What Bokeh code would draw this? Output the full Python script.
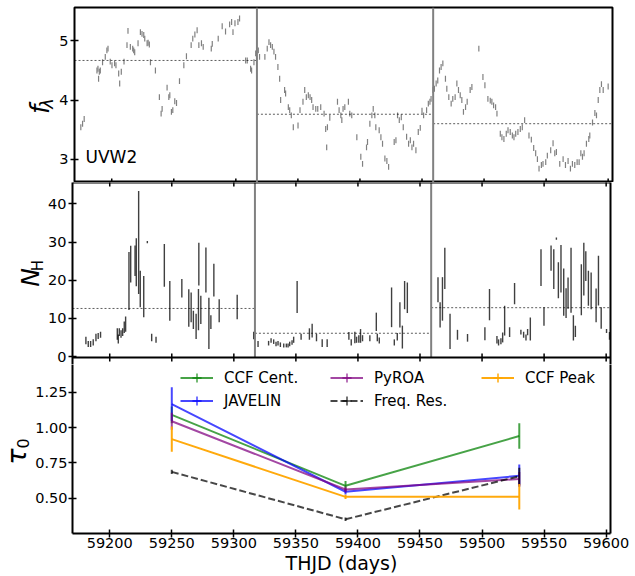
import math
import numpy as np
from bokeh.plotting import figure
from bokeh.layouts import column, row
from bokeh.models import (Span, Label, Legend, LegendItem, FixedTicker, Range1d,
                          NumeralTickFormatter, LinearAxis)
from bokeh.embed import file_html
from bokeh.resources import INLINE

FONT = "DejaVu Sans"

# ---------------- data ----------------
# UVW2 light curve (THJD, flux)
flux_t = [59175.1, 59176.5, 59177.8, 59188.1, 59188.9, 59189.4, 59190.0, 59190.8, 59192.6, 59194.8,
          59196.1, 59197.0, 59198.8, 59200.2, 59202.3, 59203.4, 59205.6, 59206.4, 59207.7, 59209.9,
          59212.3, 59213.1, 59215.0, 59216.9, 59217.7, 59218.5, 59221.2, 59223.1, 59224.4, 59225.8,
          59226.6, 59228.5, 59229.3, 59230.3, 59231.2, 59235.2, 59238.4, 59239.8, 59240.6, 59244.6,
          59246.0, 59246.8, 59248.1, 59249.2, 59250.8, 59252.2, 59254.6, 59258.1, 59260.2, 59264.0,
          59265.3, 59267.0, 59268.8, 59270.2, 59272.3, 59273.7, 59280.2, 59281.0, 59285.8, 59289.0,
          59291.7, 59295.0, 59296.6, 59297.7, 59299.3, 59301.7, 59303.0, 59307.9, 59309.2, 59311.9,
          59312.7, 59314.6, 59316.0, 59318.1, 59319.1, 59323.4, 59325.3, 59326.7, 59328.0, 59329.4,
          59330.7, 59332.0, 59333.9, 59335.3, 59336.1, 59339.3, 59340.1, 59342.3, 59343.4, 59344.7,
          59346.3, 59350.1, 59351.7, 59354.1, 59355.5, 59356.8, 59358.4, 59359.8, 59361.1, 59362.2,
          59364.4, 59366.0, 59368.4, 59371.1, 59372.4, 59373.2, 59373.8, 59375.7, 59381.9, 59383.2,
          59384.6, 59385.4, 59386.4, 59387.8, 59390.7, 59391.8, 59393.4, 59397.5, 59400.7, 59402.1,
          59405.3, 59406.1, 59408.0, 59409.6, 59410.7, 59412.0, 59412.8, 59415.5, 59416.9, 59418.2,
          59420.1, 59421.7, 59423.1, 59427.6, 59429.0, 59430.3, 59431.7, 59433.3, 59434.9, 59437.6,
          59439.2, 59440.6, 59441.9, 59443.2, 59445.1, 59447.0, 59448.6, 59450.0, 59451.3, 59453.7,
          59455.1, 59456.4, 59457.3, 59458.9, 59460.0, 59461.4, 59462.7, 59464.1, 59465.4, 59466.8,
          59468.9, 59470.0, 59471.6, 59473.5, 59474.8, 59476.7, 59478.1, 59479.4, 59480.8, 59482.1,
          59483.4, 59485.1, 59486.4, 59488.8, 59490.2, 59495.8, 59499.1, 59500.7, 59503.1, 59505.0,
          59506.3, 59507.7, 59509.3, 59510.4, 59513.1, 59514.4, 59516.0, 59517.9, 59519.3, 59521.1,
          59522.8, 59524.1, 59525.5, 59527.3, 59529.2, 59530.8, 59532.7, 59536.2, 59538.1, 59540.0,
          59541.6, 59543.0, 59544.3, 59546.2, 59547.5, 59549.7, 59551.0, 59553.7, 59555.6, 59557.0,
          59558.3, 59561.0, 59563.7, 59565.6, 59567.7, 59569.6, 59571.2, 59573.1, 59575.0, 59576.6,
          59578.0, 59579.3, 59580.6, 59582.5, 59584.4, 59585.2, 59587.4, 59589.3, 59590.6, 59592.0,
          59593.3, 59594.6, 59596.0, 59600.0]
flux_v = [3.54, 3.60, 3.68, 4.50, 4.53, 4.36, 4.48, 4.50, 4.64, 4.73,
          4.84, 4.87, 4.65, 4.59, 4.62, 4.59, 4.45, 4.28, 4.48, 4.65,
          4.93, 5.17, 4.90, 4.87, 4.84, 4.81, 4.96, 5.15, 5.12, 5.10,
          5.04, 4.96, 4.97, 4.94, 4.64, 4.50, 4.05, 3.77, 3.85, 4.21,
          4.05, 4.08, 3.80, 3.83, 3.98, 3.95, 4.32, 4.59, 4.74, 4.93,
          5.04, 5.11, 5.18, 4.93, 4.96, 4.90, 4.87, 4.95, 5.04, 5.25,
          5.16, 5.28, 5.32, 5.15, 5.30, 5.32, 5.38, 4.67, 4.67, 4.53,
          4.50, 4.64, 4.79, 4.84, 4.73, 4.73, 4.87, 4.98, 4.93, 4.90,
          4.82, 4.73, 4.56, 4.36, 4.00, 4.17, 4.11, 3.88, 3.83, 3.74,
          3.54, 3.57, 3.83, 3.97, 4.17, 4.05, 4.08, 4.05, 4.00, 3.88,
          3.85, 3.85, 3.88, 3.77, 3.51, 3.20, 3.54, 3.70, 3.97, 3.83,
          3.74, 3.66, 3.85, 3.88, 3.97, 3.77, 3.74, 3.37, 3.04, 2.92,
          3.20, 3.29, 3.60, 3.74, 3.85, 3.74, 3.54, 3.49, 3.37, 3.26,
          3.01, 2.97, 2.87, 3.29, 3.32, 3.74, 3.66, 3.71, 3.54, 3.38,
          3.26, 3.32, 3.20, 3.26, 3.15, 3.46, 3.53, 3.82, 3.74, 3.83,
          3.94, 3.97, 4.02, 4.17, 4.19, 4.28, 4.33, 4.50, 4.56, 4.62,
          4.36, 4.19, 4.05, 3.94, 4.02, 4.05, 4.28, 4.17, 4.08, 4.00,
          3.80, 3.88, 3.97, 4.17, 4.22, 4.87, 4.39, 4.25, 4.02, 3.99,
          3.97, 3.91, 3.88, 3.77, 3.43, 3.37, 3.34, 3.43, 3.49, 3.46,
          3.40, 3.37, 3.43, 3.46, 3.51, 3.54, 3.66, 3.40, 3.33, 3.19,
          3.10, 3.00, 2.84, 2.90, 2.92, 2.95, 3.06, 3.15, 3.27, 3.10,
          3.12, 2.92, 3.00, 2.90, 2.97, 2.84, 2.92, 2.90, 2.95, 2.95,
          3.10, 3.04, 3.10, 3.26, 3.34, 3.40, 3.62, 3.78, 3.74, 4.00,
          4.17, 4.27, 4.17, 4.23]
flux_err = 0.05

# N_H series (THJD, value, error)
nh_t = [59180.8, 59182.7, 59184.6, 59186.7, 59188.9, 59190.7, 59192.6, 59206.1, 59206.9, 59207.7,
        59209.1, 59210.4, 59211.7, 59212.8, 59215.5, 59216.9, 59220.4, 59221.4, 59223.3, 59224.6,
        59227.4, 59230.3, 59233.8, 59237.3, 59244.0, 59248.4, 59258.1, 59263.7, 59265.6, 59267.4,
        59269.6, 59271.5, 59271.8, 59273.4, 59277.5, 59279.9, 59281.5, 59283.9, 59288.2, 59302.7,
        59316.0, 59319.5, 59328.0, 59330.0, 59332.1, 59334.0, 59335.6, 59337.5, 59340.2, 59342.3,
        59343.7, 59345.0, 59346.9, 59348.2, 59351.0, 59354.2, 59360.9, 59363.1, 59366.6, 59371.2,
        59375.2, 59392.7, 59394.6, 59397.5, 59398.9, 59400.7, 59402.1, 59403.7, 59409.6, 59414.8,
        59415.6, 59417.2, 59427.1, 59429.3, 59431.7, 59433.8, 59435.8, 59437.6, 59439.8, 59464.5,
        59466.2, 59468.1, 59470.0, 59474.2, 59480.2, 59488.3, 59502.3, 59506.0, 59512.0, 59513.3,
        59515.2, 59516.6, 59518.2, 59522.2, 59526.2, 59531.3, 59533.5, 59535.4, 59536.7, 59538.9,
        59547.5, 59549.9, 59555.6, 59557.8, 59559.9, 59561.5, 59563.6, 59565.8, 59567.7, 59569.3,
        59571.7, 59573.6, 59575.2, 59580.0, 59582.0, 59583.6, 59585.7, 59587.9, 59591.9, 59593.8,
        59596.0, 59600.3, 59602.7]
nh_v = [4.2, 3.3, 3.3, 3.7, 5.0, 5.4, 5.7, 5.9, 4.6, 6.4,
        5.9, 6.4, 7.7, 8.5, 19.8, 24.2, 25.1, 24.7, 29.9, 17.7,
        15.7, 30.0, 5.0, 4.4, 23.9, 14.6, 17.9, 12.7, 12.9, 9.6,
        7.9, 12.3, 24.2, 12.2, 22.7, 8.7, 9.0, 20.0, 12.0, 13.0,
        5.5, 3.3, 3.5, 4.2, 3.9, 3.3, 3.5, 3.1, 2.9, 2.9,
        2.9, 3.3, 3.7, 4.4, 15.6, 5.2, 5.9, 6.8, 5.0, 3.5,
        3.5, 5.4, 3.7, 5.0, 4.4, 4.6, 5.4, 4.8, 4.8, 9.1,
        5.0, 4.2, 12.9, 3.7, 5.2, 10.9, 5.1, 16.1, 15.4, 17.5,
        10.9, 15.1, 23.1, 6.6, 5.7, 4.9, 6.0, 13.6, 4.4, 3.7,
        4.0, 5.0, 9.4, 6.4, 16.5, 6.4, 5.7, 5.0, 6.4, 7.2,
        23.3, 10.5, 25.8, 22.9, 30.9, 20.0, 23.0, 16.9, 14.0, 16.6,
        20.0, 7.5, 6.6, 17.5, 22.9, 23.7, 17.9, 17.2, 13.4, 19.9,
        10.1, 6.7, 5.4]
nh_e = [1.0, 0.8, 0.8, 0.8, 1.0, 0.8, 0.8, 1.5, 1.2, 1.0,
        1.0, 1.0, 1.5, 2.0, 7.6, 4.8, 4.0, 6.3, 13.5, 4.8,
        5.4, 0.3, 1.0, 0.8, 5.6, 5.2, 2.4, 4.9, 3.9, 2.4,
        3.3, 5.4, 5.6, 3.7, 5.9, 6.7, 1.8, 4.3, 3.0, 3.2,
        1.0, 0.8, 0.6, 0.6, 0.6, 0.6, 0.6, 0.6, 0.5, 0.5,
        0.5, 0.6, 0.6, 0.8, 4.2, 0.8, 1.5, 1.8, 1.0, 1.0,
        1.0, 1.0, 0.8, 1.5, 0.8, 1.0, 1.8, 0.8, 0.8, 2.4,
        1.0, 0.8, 5.2, 0.8, 1.0, 3.3, 3.0, 3.7, 4.0, 3.3,
        3.3, 5.7, 5.4, 4.6, 1.3, 1.0, 1.7, 4.1, 1.0, 0.8,
        0.8, 1.3, 3.9, 1.3, 2.8, 0.6, 0.8, 0.8, 0.8, 3.0,
        4.8, 2.4, 3.3, 5.2, 0.3, 4.7, 6.2, 6.2, 3.9, 4.1,
        8.5, 3.3, 1.5, 6.7, 6.9, 3.9, 4.6, 4.8, 4.4, 6.5,
        2.8, 0.5, 1.0]

# epoch boundaries and per-epoch means
epoch_edges = [59317.0, 59459.0]
flux_means = [4.67, 3.76, 3.60]
nh_means = [12.6, 6.1, 12.8]

# lag results
tau_t = [59250, 59390, 59530]
methods = ["CCF Cent.", "JAVELIN", "PyROA", "Freq. Res.", "CCF Peak"]
tau_vals = {
    "CCF Cent.": [1.09, 0.587, 0.94],
    "JAVELIN": [1.166, 0.545, 0.658],
    "PyROA": [1.045, 0.561, 0.635],
    "Freq. Res.": [0.686, 0.350, 0.655],
    "CCF Peak": [0.918, 0.509, 0.510],
}
tau_errs = {
    "CCF Cent.": [0.06, 0.035, 0.09],
    "JAVELIN": [0.12, 0.02, 0.08],
    "PyROA": [0.06, 0.02, 0.05],
    "Freq. Res.": [0.015, 0.012, 0.06],
    "CCF Peak": [0.09, 0.015, 0.09],
}

x_ticks = [59200, 59250, 59300, 59350, 59400, 59450, 59500, 59550, 59600]
flux_ticks = [3, 4, 5]
nh_ticks = [0, 10, 20, 30, 40]
tau_ticks = [0.50, 0.75, 1.00, 1.25]

# panel limits (data units)
flux_lim = (2.605, 5.566)
nh_lim = (-0.25, 45.6)
tau_lim = (0.249, 1.497)

# ---------------- styling ----------------
styles = {
    "CCF Cent.": dict(color="#008000", alpha=0.72, dash="solid"),
    "JAVELIN": dict(color="#0000ff", alpha=0.72, dash="solid"),
    "PyROA": dict(color="#800080", alpha=0.72, dash="solid"),
    "Freq. Res.": dict(color="#000000", alpha=0.72, dash="7 3"),
    "CCF Peak": dict(color="#ffa500", alpha=0.95, dash="solid"),
}

x_range = Range1d(59170, 59603.5)
FRAME_LEFT, RIGHT, FW = 72, 25, 538
H1, H2, H3 = 175, 175, 176      # visual panel heights (px)
OVER = 7                        # strip of panel 3 that is drawn by panel 2's canvas


def make_fig(lab_w, fh, y_range, top, bottom, with_xaxis, yticks, standoff=2):
    left = FRAME_LEFT - lab_w
    p = figure(width=left + FW + RIGHT, height=fh + top + bottom,
               frame_width=FW, frame_height=fh,
               x_range=x_range, y_range=y_range,
               x_axis_location="below" if with_xaxis else None,
               output_backend="svg", toolbar_location=None,
               min_border_left=left, min_border_right=RIGHT,
               min_border_top=top, min_border_bottom=bottom)
    p.grid.visible = False
    p.background_fill_color = "white"
    p.border_fill_color = "white"
    for ax in p.xaxis + p.yaxis:
        ax.axis_line_color = None
        ax.minor_tick_line_color = None
        ax.major_tick_line_color = "black"
        ax.major_tick_line_width = 1.5
        ax.major_label_text_font = FONT
        ax.major_label_text_font_size = "14.5px"
        ax.major_label_text_color = "black"
    ya = p.yaxis[0]
    ya.ticker = FixedTicker(ticks=yticks)
    ya.major_tick_in = 4
    ya.major_tick_out = 4
    ya.major_label_standoff = standoff
    return p, ya


def side_borders(p, ya):
    # left/right frame edges drawn as axis lines (panel 2 and 3 share them)
    ya.axis_line_color = "black"
    ya.axis_line_width = 2
    r = LinearAxis(ticker=FixedTicker(ticks=[]), axis_line_color="black", axis_line_width=2,
                   major_tick_line_color=None, minor_tick_line_color=None)
    p.add_layout(r, "right")


def edge_ticks(p, y_edge):
    # x tick marks on a panel edge, at the axis tick positions
    p.scatter(x=x_ticks, y=[y_edge] * len(x_ticks), marker="dash", angle=math.pi / 2,
              size=8, line_color="black", line_width=1.5)


def label_fig(w, h, specs):
    # narrow strip holding the rotated y-axis titles (positions in pixels of the strip)
    f = figure(width=w, height=h, frame_width=w, frame_height=h,
               x_range=Range1d(0, w), y_range=Range1d(0, h),
               x_axis_location=None, y_axis_location=None,
               output_backend="svg", toolbar_location=None,
               min_border=0, min_border_left=0, min_border_right=0,
               min_border_top=0, min_border_bottom=0)
    f.grid.visible = False
    f.outline_line_color = None
    f.background_fill_color = "white"
    f.border_fill_color = "white"
    for text, x, y, size, style in specs:
        f.add_layout(Label(x=x, y=y, x_units="data", y_units="data", text=text,
                           angle=math.pi / 2, text_font=FONT, text_font_size=size,
                           text_font_style=style, text_align="center",
                           text_baseline="middle", text_color="black"))
    return f


seg_x0 = [x_range.start] + epoch_edges
seg_x1 = epoch_edges + [x_range.end]

# ---------------- panel 1: flux ----------------
W1 = 56
p1, ya1 = make_fig(W1, H1, Range1d(*flux_lim), 7, 0, False, flux_ticks)
p1.outline_line_color = "black"
p1.outline_line_width = 2
ft = np.array(flux_t)
fv = np.array(flux_v)
p1.segment(x0=ft, y0=fv - flux_err, x1=ft, y1=fv + flux_err,
           line_color="#808080", line_width=1.2)
p1.segment(x0=seg_x0, y0=flux_means, x1=seg_x1, y1=flux_means,
           line_color="black", line_dash="2 2", line_width=0.8, line_alpha=0.8)
for e in epoch_edges:
    p1.add_layout(Span(location=e, dimension="height", line_color="#808080", line_width=2))
edge_ticks(p1, flux_lim[0])
p1.add_layout(Label(x=11, y=16, x_units="screen", y_units="screen", text="UVW2",
                    text_font=FONT, text_font_size="17px", text_color="black"))
l1 = label_fig(W1, 182, [("f", 39, 80, "26px", "italic"),
                         ("λ", 45.5, 86, "18px", "italic")])

# ---------------- panel 2: N_H (its canvas also covers the top strip of panel 3) ----------------
W2 = 45
nh_scale = (nh_lim[1] - nh_lim[0]) / H2
p2, ya2 = make_fig(W2, H2 + OVER, Range1d(nh_lim[0] - OVER * nh_scale, nh_lim[1]), 0, 0,
                   False, nh_ticks)
p2.outline_line_color = None
side_borders(p2, ya2)
nt = np.array(nh_t)
nv = np.array(nh_v)
ne = np.array(nh_e)
p2.segment(x0=nt, y0=nv - ne, x1=nt, y1=nv + ne,
           line_color="black", line_alpha=0.75, line_width=1.4)
p2.segment(x0=seg_x0, y0=nh_means, x1=seg_x1, y1=nh_means,
           line_color="black", line_dash="2 2", line_width=0.8, line_alpha=0.8)
p2.segment(x0=epoch_edges, y0=[nh_lim[0]] * 2, x1=epoch_edges, y1=[nh_lim[1]] * 2,
           line_color="#808080", line_width=2)
p2.add_layout(Span(location=nh_lim[1], dimension="width", line_color="black", line_width=2))
p2.add_layout(Span(location=nh_lim[0], dimension="width", line_color="black", line_width=2))
edge_ticks(p2, nh_lim[1])
edge_ticks(p2, nh_lim[0])
l2 = label_fig(W2, H2 + OVER, [("N", 29.5, 80 + OVER, "25px", "italic"),
                               ("H", 37, 92 + OVER, "15px", "normal")])

# ---------------- panel 3: lags ----------------
W3 = 32
tau_scale = (tau_lim[1] - tau_lim[0]) / H3
p3, ya3 = make_fig(W3, H3 - OVER, Range1d(tau_lim[0], tau_lim[1] - OVER * tau_scale), 0, 43,
                   True, tau_ticks, standoff=1)
p3.outline_line_color = None
ya3.formatter = NumeralTickFormatter(format="0.00")
side_borders(p3, ya3)
xa = p3.below[0]
xa.axis_line_color = "black"
xa.axis_line_width = 2
xa.ticker = FixedTicker(ticks=x_ticks)
xa.major_tick_in = 4
xa.major_tick_out = 4
xa.major_label_standoff = 0
xa.axis_label = "THJD (days)"
xa.axis_label_text_font = FONT
xa.axis_label_text_font_size = "19px"
xa.axis_label_text_font_style = "normal"
xa.axis_label_text_color = "black"
xa.axis_label_standoff = 1

line_r, tick_r = {}, {}
for m in methods:
    st = styles[m]
    v = np.array(tau_vals[m])
    e = np.array(tau_errs[m])
    line_r[m] = p3.line(tau_t, tau_vals[m], line_color=st["color"], line_alpha=st["alpha"],
                        line_width=2, line_dash=st["dash"])
    p3.segment(x0=tau_t, y0=v - e, x1=tau_t, y1=v + e, line_color=st["color"],
               line_alpha=st["alpha"], line_width=2)
    tick_r[m] = p3.scatter(tau_t, tau_vals[m], marker="cross", size=0,
                           line_color=st["color"], line_alpha=st["alpha"], line_width=1.5)

l3 = label_fig(W3, 219 - OVER, [("τ", 16, 120, "27px", "italic"),
                                ("0", 22.5, 133, "16px", "normal")])

legend_groups = [["CCF Cent.", "JAVELIN"], ["PyROA", "Freq. Res."], ["CCF Peak"]]
legend_locs = [(108, 121), (258, 121), (409, 144)]
for grp, loc in zip(legend_groups, legend_locs):
    items = [LegendItem(label=m, renderers=[line_r[m], tick_r[m]]) for m in grp]
    lg = Legend(items=items, location=loc, orientation="vertical",
                glyph_width=33, glyph_height=23, spacing=0, padding=0, margin=0,
                label_standoff=11, label_text_font=FONT, label_text_font_size="15px",
                label_text_color="black", border_line_color=None,
                background_fill_alpha=0)
    p3.add_layout(lg)

layout = column(row(l1, p1, spacing=0), row(l2, p2, spacing=0), row(l3, p3, spacing=0),
                spacing=0)
open("out.html", "w").write(file_html(layout, INLINE))
